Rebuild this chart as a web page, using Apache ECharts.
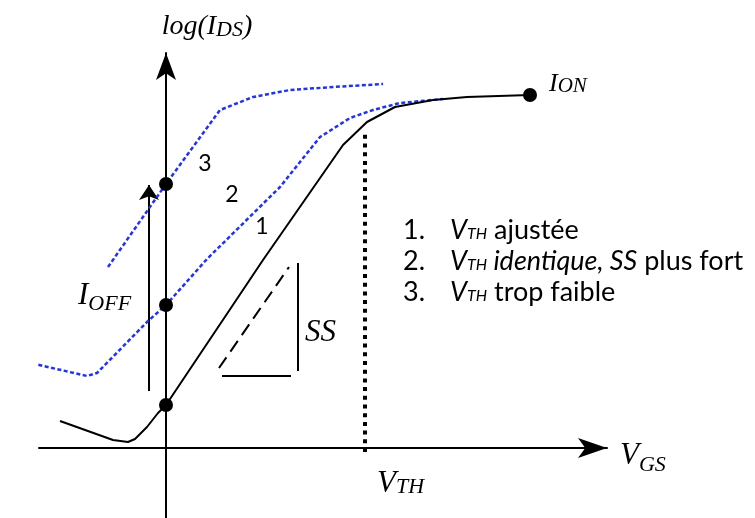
<!DOCTYPE html>
<html><head><meta charset="utf-8">
<script src="https://cdn.jsdelivr.net/npm/echarts@6/dist/echarts.min.js"></script>
<style>html,body{margin:0;padding:0;background:#fff}#c{width:755px;height:518px}</style>
</head><body><div id="c"></div>
<script>
// Schematic units: x = V_GS (origin on the log(I_DS) axis), y = log(I_DS) (origin on the V_GS axis)
const curve1 = [[-106,27],[-53,8],[-38,6],[-31,9],[-19,21],[-8,35],[0,43],[97,188],[177,303],[201,326],[229,341],[267,348],[301,351],[364,353]];
const curve2 = [[-153,89],[-79,72],[-69,75],[-19,126],[0,143],[41,189],[114,261],[154,311],[184,330],[207,338],[234,345],[277,349]];
const curve3 = [[-58,181],[0,264],[54,338],[87,351],[124,358],[167,361],[217,364]];
const dots = [[0,43],[0,143],[0,264],[364,353]];
const vthLine = [[199,-4],[199,318]];
const ioffArrow = [[-17,57],[-17,263]];
const ssHyp = [[53,80],[123,181]];
const ssBase = [[56,72],[125,72]];
const ssSide = [[132,185],[132,77]];
const curveNames = ['1','2','3'];
const curveNamePos = [[96,221],[66,253],[39,284]];
const legendNums = ['1.','2.','3.'];
const legendPos = [[237,218],[237,187],[237,156]];
const axisRange = {xMin:-127, xMax:441, yMin:-70, yMax:395};

const serif = 'Liberation Serif';
const sans = 'Lato';
const blue = '#2233ee';

function lbl(pos, formatter, rich, position) {
  return {value: pos, label: {show: true, formatter, rich, position: position || 'right', distance: 0, opacity: 1}};
}
const subPad = d => [2*d,0,0,0];
const labelData = [
  lbl([41,421], '{a|log(I}{s|DS}{a|)}', {
    a:{fontFamily:serif, fontStyle:'italic', fontSize:28, color:'#000'},
    s:{fontFamily:serif, fontStyle:'italic', fontSize:22, color:'#000', padding:subPad(3)}
  }, 'inside'),
  lbl([383,364], '{a|I}{s|ON}', {
    a:{fontFamily:serif, fontStyle:'italic', fontSize:26, color:'#000'},
    s:{fontFamily:serif, fontStyle:'italic', fontSize:21, color:'#000', padding:subPad(2)}
  }),
  lbl([-88,152], '{a|I}{s|OFF}', {
    a:{fontFamily:serif, fontStyle:'italic', fontSize:31, color:'#000'},
    s:{fontFamily:serif, fontStyle:'italic', fontSize:22, color:'#000', padding:subPad(8)}
  }),
  lbl([139,115], '{a|SS}', {
    a:{fontFamily:serif, fontStyle:'italic', fontSize:31, color:'#000'}
  }),
  lbl([454,-8], '{a|V}{s|GS}', {
    a:{fontFamily:serif, fontStyle:'italic', fontSize:31, color:'#000'},
    s:{fontFamily:serif, fontStyle:'italic', fontSize:22, color:'#000', padding:subPad(9)}
  }),
  lbl([211,-36], '{a|V}{s|TH}', {
    a:{fontFamily:serif, fontStyle:'italic', fontSize:31, color:'#000'},
    s:{fontFamily:serif, fontStyle:'italic', fontSize:22, color:'#000', padding:subPad(3)}
  })
];
curveNames.forEach((t,i) => labelData.push(lbl(curveNamePos[i], '{a|'+t+'}', {
  a:{fontFamily:sans, fontSize:23, color:'#000'}
}, 'inside')));
const legRich = {
  n:{fontFamily:sans, fontSize:27, color:'#000', width:47},
  v:{fontFamily:sans, fontStyle:'italic', fontSize:27, color:'#000'},
  s:{fontFamily:sans, fontStyle:'italic', fontSize:16, color:'#000', padding:subPad(4)},
  i:{fontFamily:sans, fontStyle:'italic', fontSize:27, color:'#000'},
  t:{fontFamily:sans, fontSize:27, color:'#000'}
};
const legendTexts = [
  '{v|V}{s|TH}{t| ajustée}',
  '{v|V}{s|TH}{i| identique, SS}{t| plus fort}',
  '{v|V}{s|TH}{t| trop faible}'
];
legendNums.forEach((n,i) => labelData.push(lbl(legendPos[i], '{n|'+n+'}'+legendTexts[i], legRich)));

const chart = echarts.init(document.getElementById('c'), null, {renderer:'canvas'});
chart.setOption({
  animation: false,
  backgroundColor: '#fff',
  grid: {left:39, right:148, top:53, bottom:0, containLabel:false},
  xAxis: {type:'value', min:axisRange.xMin, max:axisRange.xMax,
    axisLine:{show:true, onZero:true, symbol:['none','arrow'], symbolSize:[15,29], lineStyle:{color:'#000', width:2}},
    axisTick:{show:false}, axisLabel:{show:false}, splitLine:{show:false}},
  yAxis: {type:'value', min:axisRange.yMin, max:axisRange.yMax,
    axisLine:{show:true, onZero:true, symbol:['none','arrow'], symbolSize:[15,27], lineStyle:{color:'#000', width:2}},
    axisTick:{show:false}, axisLabel:{show:false}, splitLine:{show:false}},
  series: [
    {type:'line', data:curve2, symbol:'none', clip:false, lineStyle:{color:blue, width:2.5, type:[4,2.5]}},
    {type:'line', data:curve3, symbol:'none', clip:false, lineStyle:{color:blue, width:2.5, type:[4,2.5]}},
    {type:'line', data:curve1, symbol:'none', clip:false, lineStyle:{color:'#000', width:2}},
    {type:'line', data:vthLine, symbol:'none', clip:false, lineStyle:{color:'#000', width:4, type:[4,4.7]}},
    {type:'lines', coordinateSystem:'cartesian2d', clip:false,
      symbol:['none','arrow'], symbolSize:[11,15],
      lineStyle:{color:'#000', width:2, opacity:1},
      data:[{coords: ioffArrow}]},
    {type:'lines', coordinateSystem:'cartesian2d', clip:false, symbol:'none',
      lineStyle:{color:'#000', width:2, opacity:1},
      data:[{coords: ssBase}, {coords: ssSide}, {coords: ssHyp, lineStyle:{type:[13,7]}}]},
    {type:'scatter', data:dots, symbol:'circle', symbolSize:14, clip:false, itemStyle:{color:'#000', opacity:1}, z:5},
    {type:'scatter', data:labelData, symbolSize:0, clip:false, itemStyle:{color:'transparent', opacity:1}, z:6}
  ]
});
</script></body></html>
